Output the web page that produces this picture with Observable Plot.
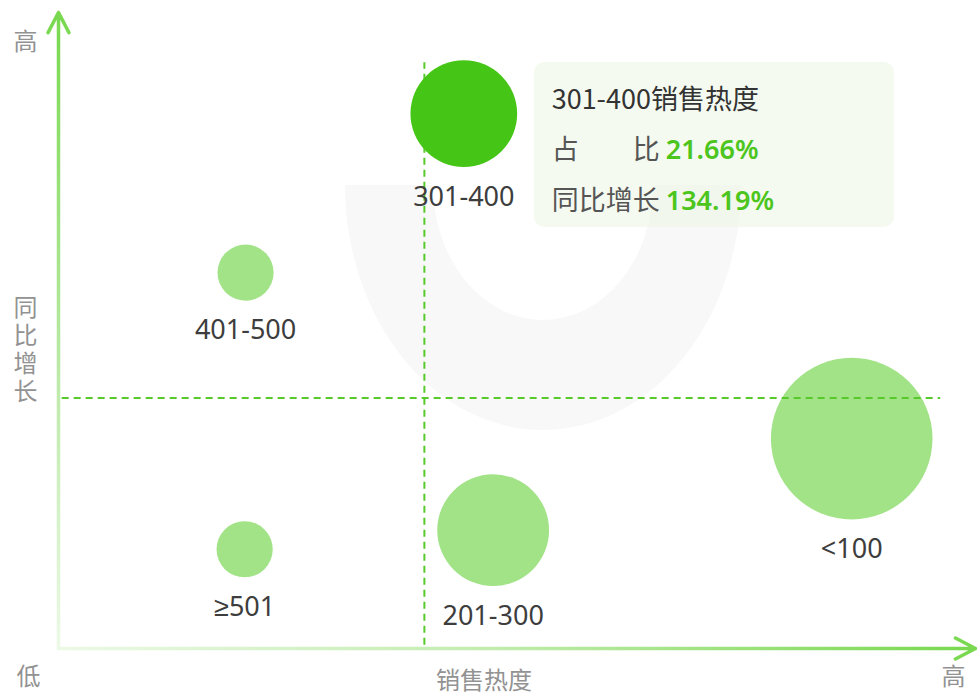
<!DOCTYPE html>
<html><head><meta charset="utf-8">
<script src="https://cdn.jsdelivr.net/npm/d3@7"></script>
<script src="https://cdn.jsdelivr.net/npm/@observablehq/plot@0.6"></script>
<style>
body{margin:0;background:#fff;font-family:"Noto Sans CJK SC","Noto Sans",sans-serif;}
#wrap{position:relative;width:977px;height:695px;overflow:hidden;}
#bg{position:absolute;left:0;top:0;}
#chart{position:absolute;left:0;top:0;}
#tip{position:absolute;width:360px;height:165px;box-sizing:border-box;padding:11px 0 0 18px;border-radius:10px;background:rgba(236,247,230,0.6);font-size:27px;line-height:50px;color:#555;white-space:nowrap;}
#tip .t{color:#333;font-weight:400;}
#tip .lab{display:inline-flex;justify-content:space-between;width:4em;vertical-align:top;}
#tip b{color:#4cc51c;font-weight:600;font-family:"Noto Sans","Noto Sans CJK SC",sans-serif;}
</style></head><body>
<div id="wrap">
<svg id="bg" width="977" height="695"><path d="M345,185 A198,245 0 0 0 741,185 L653,185 A110,135 0 0 1 433,185 Z" fill="#f8f8f8"/></svg>
<div id="chart"></div>
<div id="tip"></div>
</div>
<script>
// ---- data ----
const categories = ["<100", "201-300", "301-400", "401-500", "≥501"];
const salesHeat  = [86.5, 47.4, 44.2, 20.4, 20.3];   // x: 销售热度 (relative)
const yoyGrowth  = [33.0, 18.6, 84.1, 59.1, 15.6];   // y: 同比增长 (relative)
const shares     = [32.8, 22.7, 21.66, 11.4, 11.4];  // 占比 %
const highlight  = "301-400";
const tipShare   = "21.66%";
const tipGrowth  = "134.19%";
const heatRef    = 39.9;
const growthRef  = 39.4;
const axisHigh = "高", axisLow = "低", xTitle = "销售热度", yTitle = "同比增长";

const data = categories.map((c, i) => ({category: c, heat: salesHeat[i], growth: yoyGrowth[i], share: shares[i]}));
const rOpts = {type: "linear", domain: [0, d3.max(shares)], range: [0, 80.8]};
const rScale = Plot.scale({r: rOpts});
const font = '"Noto Sans CJK SC","Noto Sans",sans-serif';
const axes = [
  {x1: 0, y1: 0, x2: 0, y2: 100, id: "gy"},
  {x1: 0, y1: 0, x2: 100, y2: 0, id: "gx"}
];
const dash = {stroke: "#58c92a", strokeWidth: 2, strokeDasharray: "7,5"};
const axisText = {fontSize: 24, fill: "#929292", text: d => d, textAnchor: "middle", lineAnchor: "middle"};

const chart = Plot.plot({
  width: 977, height: 695,
  marginTop: 12, marginBottom: 47, marginLeft: 58, marginRight: 2,
  x: {domain: [0, 100], axis: null},
  y: {domain: [0, 100], axis: null},
  r: rOpts,
  style: {background: "transparent", fontFamily: font, overflow: "visible"},
  marks: [
    Plot.ruleX([heatRef], {x: d => d, y1: 0.5, y2: 92.1, ...dash}),
    Plot.dot(data, {filter: d => d.category !== highlight, x: "heat", y: "growth", r: "share", fill: "#a2e388"}),
    Plot.dot(data, {filter: d => d.category === highlight, x: "heat", y: "growth", r: "share", fill: "#45c515"}),
    Plot.ruleY([growthRef], {y: d => d, x1: 0.4, x2: 96.2, ...dash}),
    ...data.map(d => Plot.text([d], {x: "heat", y: "growth", text: "category", dy: rScale.apply(d.share) + 30, fontSize: 27, fill: "#3d3d3d", fontFamily: '"Noto Sans",sans-serif'})),
    Plot.arrow(axes, {x1: "x1", y1: "y1", x2: "x2", y2: "y2", stroke: d => `url(#${d.id})`, strokeWidth: 3.5, headLength: 9.7, headAngle: 55, strokeLinecap: "round", strokeLinejoin: "round"}),
    Plot.text([axisHigh], {frameAnchor: "top-left", dx: -33, dy: 30, ...axisText}),
    Plot.text([yTitle], {frameAnchor: "left", dx: -33, dy: 13, ...axisText}),
    Plot.text([axisLow], {frameAnchor: "bottom-left", dx: -30, dy: 29, ...axisText}),
    Plot.text([xTitle], {frameAnchor: "bottom", dx: -33, dy: 33, ...axisText}),
    Plot.text([axisHigh], {frameAnchor: "bottom-right", dx: -22, dy: 29, ...axisText})
  ]
});
document.getElementById("chart").appendChild(chart);

const svg = d3.select(chart);
// vertical writing for the y-axis title
svg.selectAll("text").filter(function() { return this.textContent === yTitle; })
  .attr("dy", null)
  .style("writing-mode", "vertical-rl")
  .style("text-orientation", "upright")
  .style("letter-spacing", "4px")
  .style("dominant-baseline", "central");

// gradients for the axis arrows
const xs = chart.scale("x"), ys = chart.scale("y"), rs = chart.scale("r");
const defs = svg.insert("defs", ":first-child");
const gy = defs.append("linearGradient").attr("id", "gy").attr("gradientUnits", "userSpaceOnUse")
  .attr("x1", 0).attr("x2", 0).attr("y1", ys.apply(100)).attr("y2", ys.apply(0));
gy.append("stop").attr("offset", "0%").attr("stop-color", "#78d84e");
gy.append("stop").attr("offset", "55%").attr("stop-color", "#b9e9a4");
gy.append("stop").attr("offset", "100%").attr("stop-color", "#ecf9e6");
const gx = defs.append("linearGradient").attr("id", "gx").attr("gradientUnits", "userSpaceOnUse")
  .attr("y1", 0).attr("y2", 0).attr("x1", xs.apply(0)).attr("x2", xs.apply(100));
gx.append("stop").attr("offset", "0%").attr("stop-color", "#ecf9e6");
gx.append("stop").attr("offset", "45%").attr("stop-color", "#c4edb1");
gx.append("stop").attr("offset", "100%").attr("stop-color", "#78d84e");

// tooltip anchored to the highlighted bubble
const hd = data.find(d => d.category === highlight);
const cx = xs.apply(hd.heat), cy = ys.apply(hd.growth), rr = rs.apply(hd.share);
const tip = document.getElementById("tip");
tip.style.left = (cx + rr + 17) + "px";
tip.style.top = (cy - rr + 2) + "px";
tip.innerHTML = `<div class="t">${highlight}销售热度</div>` +
  `<div><span class="lab"><span>占</span><span>比</span></span> <b>${tipShare}</b></div>` +
  `<div><span class="lab">${yTitle}</span> <b>${tipGrowth}</b></div>`;
</script>
</body></html>
